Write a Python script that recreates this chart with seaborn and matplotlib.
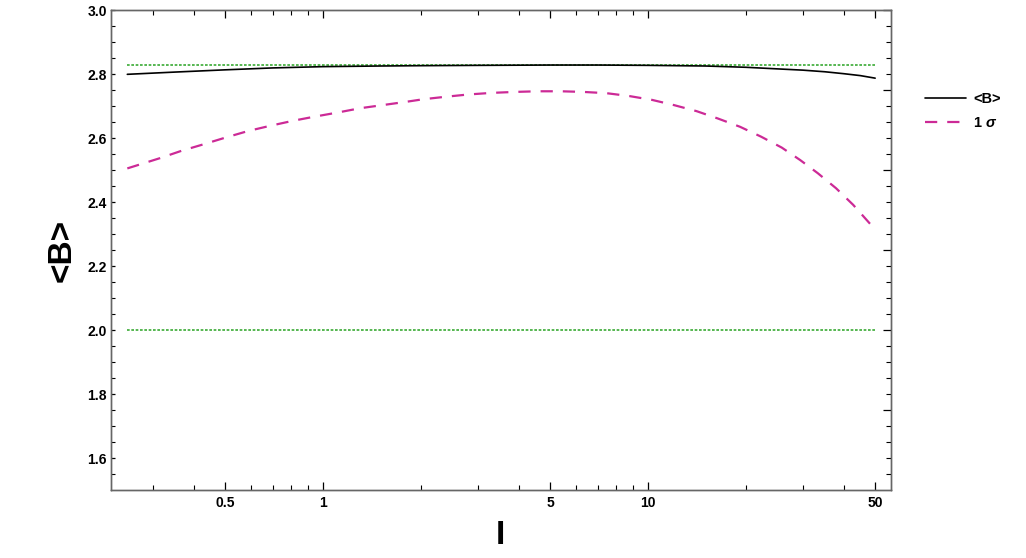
import numpy as np
import pandas as pd
import matplotlib
matplotlib.use("Agg")
import matplotlib.pyplot as plt
from matplotlib.ticker import FixedLocator, NullFormatter, FixedFormatter
import seaborn as sns

# ---- data ----
I_mean = [0.25, 0.35, 0.5, 0.7, 1.0, 1.5, 2.0, 3.0, 5.0, 7.0, 10.0, 15.0, 20.0, 25.0, 30.0, 35.0, 40.0, 45.0, 50.0]
B_mean = [2.799, 2.806, 2.813, 2.819, 2.823, 2.825, 2.826, 2.827, 2.828, 2.828, 2.827, 2.825, 2.821, 2.816, 2.812, 2.807, 2.801, 2.795, 2.787]

I_sigma = [0.25, 0.315, 0.367, 0.428, 0.5, 0.589, 0.687, 0.81, 0.945, 1.115, 1.30, 1.53, 1.80, 2.03, 2.39,
           2.80, 3.30, 3.89, 4.57, 5.40, 6.32, 7.46, 8.77, 10.3, 12.0, 14.1, 16.4, 19.2, 22.3, 25.8, 29.4,
           33.3, 37.9, 42.8, 48.8, 50.0]
B_sigma = [2.505, 2.537, 2.560, 2.580, 2.601, 2.622, 2.638, 2.654, 2.667, 2.680, 2.693, 2.703, 2.713, 2.721, 2.729,
           2.736, 2.741, 2.744, 2.746, 2.746, 2.744, 2.740, 2.731, 2.719, 2.703, 2.684, 2.661, 2.635, 2.604, 2.570, 2.531,
           2.490, 2.443, 2.391, 2.326, 2.316]

ref_levels = [2.828, 2.0]

x_major = [0.5, 1, 5, 10, 50]
x_major_labels = ["0.5", "1", "5", "10", "50"]
x_minor = [0.3, 0.4, 0.6, 0.7, 0.8, 0.9, 2, 3, 4, 6, 7, 8, 9, 20, 30, 40]
y_major = [1.6, 1.8, 2.0, 2.2, 2.4, 2.6, 2.8, 3.0]
y_major_labels = ["1.6", "1.8", "2.0", "2.2", "2.4", "2.6", "2.8", "3.0"]

# ---- style ----
sns.set_style("ticks")
plt.rcParams['font.family'] = ['Liberation Sans', 'DejaVu Sans']
plt.rcParams['font.weight'] = 'bold'
plt.rcParams['text.color'] = 'black'
plt.rcParams['axes.labelcolor'] = 'black'
plt.rcParams['xtick.color'] = 'black'
plt.rcParams['ytick.color'] = 'black'
plt.rcParams['mathtext.fontset'] = 'custom'
plt.rcParams['mathtext.it'] = 'Liberation Sans:italic:bold'
plt.rcParams['mathtext.rm'] = 'Liberation Sans:bold'

fig = plt.figure(figsize=(10.26, 5.58), dpi=100)
ax = fig.add_axes([111/1026, 1-490/558, 780/1026, 480/558])

df_mean = pd.DataFrame({"I": I_mean, "B": B_mean})
df_sigma = pd.DataFrame({"I": I_sigma, "B": B_sigma})

lx0, lx1 = np.log10(0.2227), np.log10(55.94)
for lvl in ref_levels:
    ax.axhline(lvl, xmin=(np.log10(0.25)-lx0)/(lx1-lx0),
               xmax=(np.log10(50)-lx0)/(lx1-lx0),
               color="#3aaa35", lw=1.2, dashes=(1.6, 1.0), zorder=1)

sns.lineplot(data=df_mean, x="I", y="B", ax=ax, color="black", lw=1.2, label="<B>", zorder=3)
sns.lineplot(data=df_sigma, x="I", y="B", ax=ax, color="#cc2a96", lw=1.6, label=r"1 $\sigma$",
             zorder=3, dashes=False)
ax.lines[-1].set_dashes((5.5, 4.5))

ax.set_xscale("log")
ax.set_xlim(0.2227, 55.94)
ax.set_ylim(1.5, 3.0)

ax.xaxis.set_major_locator(FixedLocator(x_major))
ax.xaxis.set_major_formatter(FixedFormatter(x_major_labels))
ax.xaxis.set_minor_locator(FixedLocator(x_minor))
ax.xaxis.set_minor_formatter(NullFormatter())
ax.yaxis.set_major_locator(FixedLocator(y_major))
ax.yaxis.set_major_formatter(FixedFormatter(y_major_labels))
ax.yaxis.set_minor_locator(FixedLocator(list(np.arange(1.55, 3.0, 0.05))))
ax.yaxis.set_minor_formatter(NullFormatter())

ax.tick_params(axis="x", which="major", direction="in", length=6, width=0.9, top=True,
               labelsize=10, pad=4, color="black", labelcolor="black")
ax.tick_params(axis="x", which="minor", direction="in", length=3.4, width=0.8, top=True, color="black")
ax.tick_params(axis="y", which="major", direction="in", length=3, width=0.9, right=False,
               labelsize=10, pad=3, color="black", labelcolor="black")
ax.tick_params(axis="y", which="minor", direction="in", length=3, width=0.8, right=False, color="black")
for lab in ax.get_xticklabels() + ax.get_yticklabels():
    lab.set_fontweight("bold")

# right frame ticks (different spacing, as in the reference)
ax2 = ax.twinx()
ax2.set_ylim(1.5, 3.0)
ax2.yaxis.set_major_locator(FixedLocator([1.75, 2.0, 2.25, 2.5, 2.75, 3.0]))
ax2.yaxis.set_minor_locator(FixedLocator(list(np.arange(1.55, 3.0, 0.05))))
ax2.yaxis.set_major_formatter(NullFormatter())
ax2.yaxis.set_minor_formatter(NullFormatter())
ax2.tick_params(axis="y", which="major", direction="in", length=6, width=0.9, color="black")
ax2.tick_params(axis="y", which="minor", direction="in", length=3.4, width=0.8, color="black")

for a in (ax, ax2):
    for sp in a.spines.values():
        sp.set_color("#666666")
        sp.set_linewidth(1.0)
        sp.set_visible(True)

ax.set_xlabel("I", fontsize=24, fontweight="bold", color="black")
ax.set_ylabel("<B>", fontsize=24, fontweight="bold", color="black")
ax.xaxis.label.set(va="center", ha="center")
ax.xaxis.set_label_coords(0.4994, -0.0948)
ax.yaxis.label.set(va="center", ha="center", rotation_mode="default")
ax.yaxis.set_label_coords(-0.0622, 0.5)

handles, labels = ax.get_legend_handles_labels()
ax.get_legend().remove()
leg = fig.legend(handles, labels, loc="center left", bbox_to_anchor=(912/1026, 1-111/558),
                 frameon=False, fontsize=10.5, handlelength=2.8, handletextpad=0.5, labelspacing=0.7)
for t in leg.get_texts():
    t.set_fontweight("bold")
    t.set_color("black")

fig.savefig("out.png", dpi=100)
